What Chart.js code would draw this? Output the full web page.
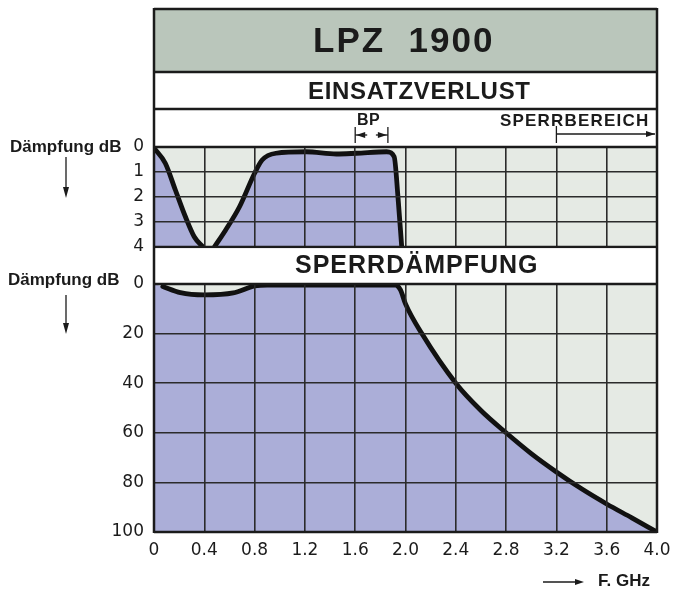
<!DOCTYPE html>
<html lang="de">
<head>
<meta charset="UTF-8">
<title>LPZ 1900</title>
<script src="https://cdn.jsdelivr.net/npm/chart.js"></script>
<style>
  body { margin: 0; background: #fff; }
  .wrap { position: relative; width: 673px; height: 590px; }
  .wrap canvas { position: absolute; left: 0; }
  #topChart { top: 0; }
  #bottomChart { top: 247px; }
</style>
</head>
<body>
<div class="wrap">
  <canvas id="topChart" width="673" height="262"></canvas>
  <canvas id="bottomChart" width="673" height="343"></canvas>
</div>
<script>
// frequency axis (GHz)
const xTicks = [0, 0.4, 0.8, 1.2, 1.6, 2.0, 2.4, 2.8, 3.2, 3.6, 4.0];
const xTickLabels = ['0', '0.4', '0.8', '1.2', '1.6', '2.0', '2.4', '2.8', '3.2', '3.6', '4.0'];

// Einsatzverlust (dB), null = gap in curve
const einsatzTicks = [0, 1, 2, 3, 4];
const einsatzFreq = [0, 0.09, 0.17, 0.25, 0.32, 0.39, 0.43, 0.48, 0.57, 0.68, 0.8, 0.86, 0.97, 1.21, 1.45, 1.61, 1.85, 1.91, 1.94, 1.97];
const einsatzDb   = [0.04, 0.65, 1.72, 2.79, 3.59, 4, null, 4, 3.32, 2.39, 1.05, 0.52, 0.25, 0.19, 0.28, 0.25, 0.19, 0.39, 1.99, 4];

// Sperrdämpfung (dB); first point only closes the filled area at 0 GHz
const sperrTicks = [0, 20, 40, 60, 80, 100];
const sperrFreq = [0, 0.07, 0.21, 0.4, 0.63, 0.8, 0.9, 1.2, 1.6, 1.92, 1.96, 2.0, 2.13, 2.4, 2.6, 2.8, 3.0, 3.2, 3.4, 3.6, 3.8, 4.0];
const sperrDb   = [0, 1.0, 3.5, 4.4, 3.6, 0.8, 0.4, 0.4, 0.4, 0.4, 2.4, 8, 20, 40, 51, 60, 68.4, 75.8, 82.6, 88.7, 94.3, 100];

// marked ranges
const passBand = [1.6, 1.86];
const stopBandStart = 3.2;

const FONT = '"Liberation Sans", Arial, sans-serif';
const TICK_FONT = '"DejaVu Sans", sans-serif';
const INK = '#1b1b1b';
const GRID = '#2b2b2b';
const LAVENDER = '#abaed8';
const PAPER = '#e5eae4';

Chart.defaults.font.family = FONT;

function line(ctx, x1, y1, x2, y2) {
  ctx.beginPath(); ctx.moveTo(x1, y1); ctx.lineTo(x2, y2); ctx.stroke();
}
function head(ctx, x, y, dir) {
  // small filled arrow head, dir: 'l', 'r', 'd'
  ctx.beginPath();
  if (dir === 'r') { ctx.moveTo(x, y); ctx.lineTo(x - 9, y - 3); ctx.lineTo(x - 9, y + 3); }
  if (dir === 'l') { ctx.moveTo(x, y); ctx.lineTo(x + 9, y - 3); ctx.lineTo(x + 9, y + 3); }
  if (dir === 'd') { ctx.moveTo(x, y); ctx.lineTo(x - 3, y - 11); ctx.lineTo(x + 3, y - 11); }
  ctx.closePath(); ctx.fill();
}
function text(ctx, str, x, y, font, spacing) {
  ctx.font = font;
  ctx.letterSpacing = spacing || '0px';
  ctx.textAlign = 'left';
  ctx.textBaseline = 'middle';
  ctx.fillText(str, x, y);
  ctx.letterSpacing = '0px';
}

function noPad(s) {
  s.paddingLeft = 0; s.paddingRight = 0; s.paddingTop = 0; s.paddingBottom = 0;
}

function gridScale(ticks, extra) {
  return Object.assign({
    type: 'linear',
    afterBuildTicks: s => { s.ticks = ticks.map(v => ({ value: v })); },
    grid: { color: GRID, lineWidth: 1.6, drawTicks: false, z: 1 },
    border: { display: false }
  }, extra);
}

const topDeco = {
  id: 'topDeco',
  beforeDraw(chart) {
    const { ctx, chartArea: a } = chart;
    ctx.save();
    ctx.fillStyle = '#bac6bb';
    ctx.fillRect(a.left, 9, a.right - a.left, 63);
    ctx.fillStyle = PAPER;
    ctx.fillRect(a.left, a.top, a.right - a.left, a.bottom - a.top);
    ctx.restore();
  },
  afterDraw(chart) {
    const { ctx, chartArea: a } = chart;
    const x = chart.scales.x;
    ctx.save();
    ctx.strokeStyle = INK;
    ctx.fillStyle = INK;
    ctx.lineWidth = 2.5;
    line(ctx, a.left, 8, a.left, a.bottom);
    line(ctx, a.right, 8, a.right, a.bottom);
    [9, 72, 109, a.top, a.bottom].forEach(y => line(ctx, a.left, y, a.right, y));

    text(ctx, 'LPZ  1900', 313, 42, 'bold 35px ' + FONT, '2px');
    text(ctx, 'EINSATZVERLUST', 308, 92, 'bold 24px ' + FONT, '0.7px');
    text(ctx, 'BP', 357, 121, 'bold 16px ' + FONT, '0.5px');
    text(ctx, 'SPERRBEREICH', 500, 121, 'bold 17px ' + FONT, '1.2px');
    text(ctx, 'Dämpfung dB', 10, 147, 'bold 17px ' + FONT);

    // BP marker
    const b0 = x.getPixelForValue(passBand[0]);
    const b1 = x.getPixelForValue(passBand[1]);
    ctx.lineWidth = 1.3;
    line(ctx, b0, 127, b0, 143);
    line(ctx, b1, 127, b1, 143);
    line(ctx, b0, 135, b0 + 12, 135);
    line(ctx, b1 - 12, 135, b1, 135);
    head(ctx, b0 + 1, 135, 'l');
    head(ctx, b1 - 1, 135, 'r');

    // Sperrbereich marker
    const s0 = x.getPixelForValue(stopBandStart);
    line(ctx, s0, 126, s0, 143);
    line(ctx, s0, 134, a.right - 2, 134);
    head(ctx, a.right - 2, 134, 'r');

    // axis arrow
    line(ctx, 66, 157, 66, 190);
    head(ctx, 66, 198, 'd');
    ctx.restore();
  }
};

const bottomDeco = {
  id: 'bottomDeco',
  beforeDraw(chart) {
    const { ctx, chartArea: a } = chart;
    ctx.save();
    ctx.fillStyle = '#fff';
    ctx.fillRect(a.left, 1.3, a.right - a.left, a.top - 1.3);
    ctx.fillStyle = PAPER;
    ctx.fillRect(a.left, a.top, a.right - a.left, a.bottom - a.top);
    ctx.restore();
  },
  afterDraw(chart) {
    const { ctx, chartArea: a } = chart;
    ctx.save();
    ctx.strokeStyle = INK;
    ctx.fillStyle = INK;
    ctx.lineWidth = 2.5;
    line(ctx, a.left, 0, a.left, a.bottom + 1);
    line(ctx, a.right, 0, a.right, a.bottom + 1);
    [a.top, a.bottom].forEach(y => line(ctx, a.left, y, a.right, y));

    text(ctx, 'SPERRDÄMPFUNG', 295, 19, 'bold 25px ' + FONT, '1px');
    text(ctx, 'Dämpfung dB', 8, 33, 'bold 17px ' + FONT);
    text(ctx, 'F. GHz', 598, 334, 'bold 17px ' + FONT);

    ctx.lineWidth = 1.3;
    line(ctx, 66, 48, 66, 78);
    head(ctx, 66, 87, 'd');
    line(ctx, 543, 335, 578, 335);
    head(ctx, 584, 335, 'r');
    ctx.restore();
  }
};

const curve = {
  borderColor: '#111',
  borderWidth: 4.8,
  backgroundColor: LAVENDER,
  pointRadius: 0,
  cubicInterpolationMode: 'monotone',
  borderCapStyle: 'round',
  borderJoinStyle: 'round',
  spanGaps: false
};

const sperrPoints = sperrFreq.map((f, i) => ({ x: f, y: sperrDb[i] }));

new Chart(document.getElementById('topChart'), {
  type: 'line',
  data: {
    datasets: [Object.assign({}, curve, {
      data: einsatzFreq.map((f, i) => ({ x: f, y: einsatzDb[i] })),
      fill: { value: 4 }
    })]
  },
  options: {
    responsive: false,
    animation: false,
    layout: { padding: { top: 147, right: 16, left: 0, bottom: 0 } },
    plugins: { legend: { display: false }, tooltip: { enabled: false } },
    scales: {
      x: gridScale(xTicks, {
        min: 0, max: 4,
        ticks: { display: false },
        afterFit: s => { s.height = 15; noPad(s); }
      }),
      y: gridScale(einsatzTicks, {
        min: 0, max: 4, reverse: true,
        ticks: { padding: 10, color: INK, font: { family: TICK_FONT, size: 17 } },
        afterFit: s => { s.width = 154; noPad(s); }
      })
    }
  },
  plugins: [topDeco]
});

new Chart(document.getElementById('bottomChart'), {
  type: 'line',
  data: {
    datasets: [
      // curve, drawn from the first real reading (index 0 is painted on top)
      Object.assign({}, curve, { data: sperrPoints.slice(1), fill: false }),
      // filled area
      Object.assign({}, curve, { data: sperrPoints, fill: { value: 100 }, borderWidth: 0 })
    ]
  },
  options: {
    responsive: false,
    animation: false,
    layout: { padding: { top: 37, right: 16, left: 0, bottom: 0 } },
    plugins: { legend: { display: false }, tooltip: { enabled: false } },
    scales: {
      x: gridScale(xTicks, {
        min: 0, max: 4,
        ticks: {
          padding: 8, color: INK, font: { family: TICK_FONT, size: 17 }, maxRotation: 0, autoSkip: false,
          callback: (v, i) => xTickLabels[i]
        },
        afterFit: s => { s.height = 58; noPad(s); }
      }),
      y: gridScale(sperrTicks, {
        min: 0, max: 100, reverse: true,
        ticks: { padding: 10, color: INK, font: { family: TICK_FONT, size: 17 } },
        afterFit: s => { s.width = 154; noPad(s); }
      })
    }
  },
  plugins: [bottomDeco]
});
</script>
</body>
</html>
